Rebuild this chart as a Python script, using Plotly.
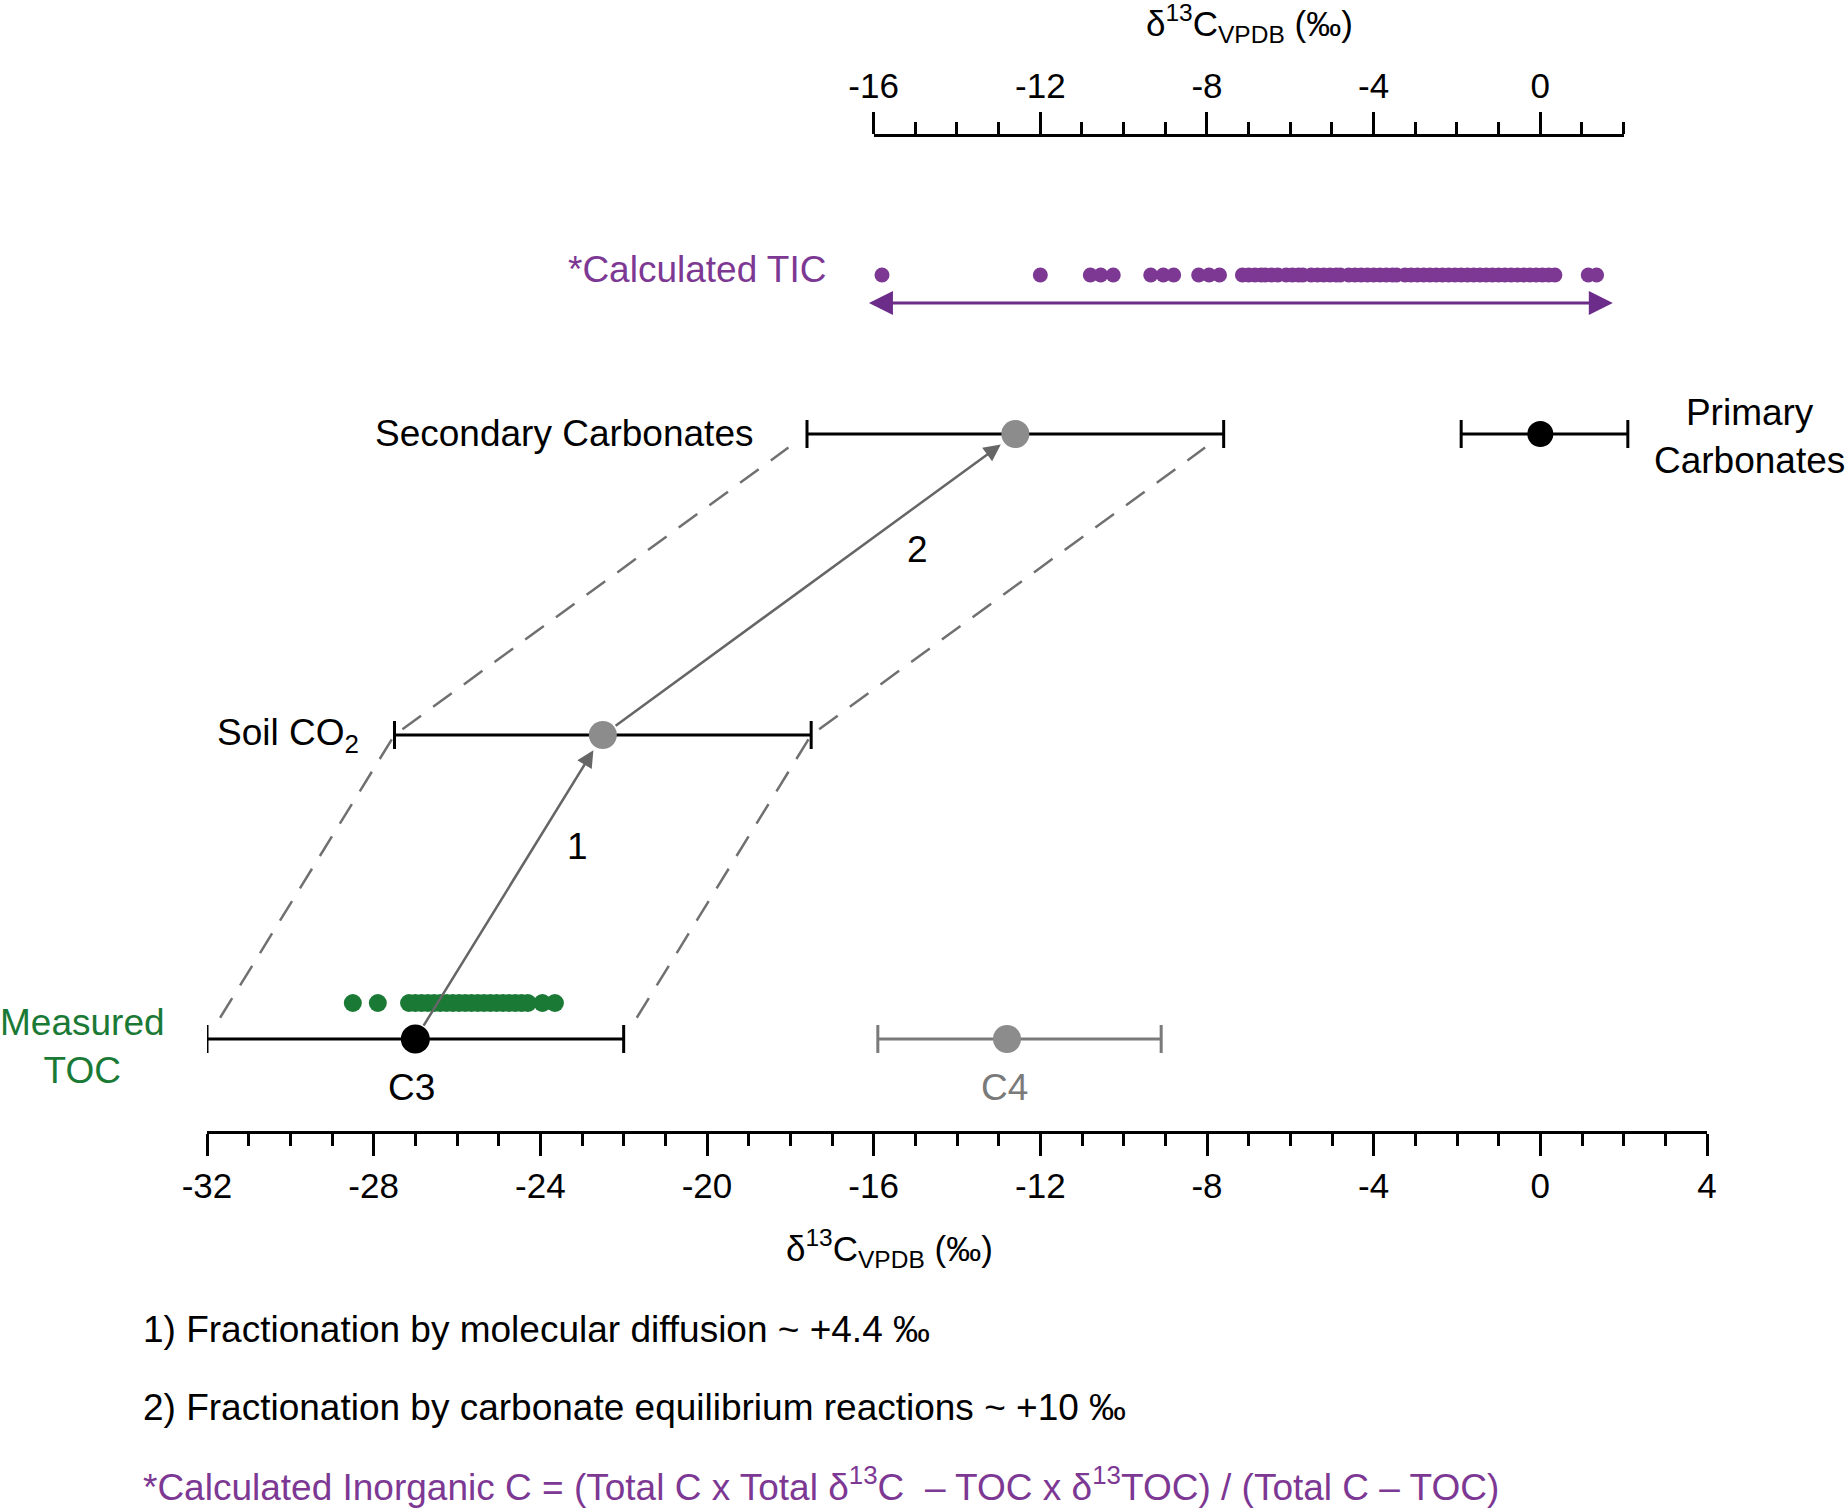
import plotly.graph_objects as go

# ---------------- data ----------------
tic_values = [-15.8, -12.0, -10.8, -10.55, -10.25, -9.35, -9.05, -8.8, -8.2, -7.95, -7.7,
              -7.15, -7.0, -6.85, -6.7, -6.6, -6.45, -6.3, -6.1, -5.95, -5.8, -5.7, -5.5,
              -5.35, -5.2, -5.05, -4.9, -4.8, -4.6, -4.45, -4.3, -4.15, -4.0, -3.85, -3.7,
              -3.55, -3.45, -3.25, -3.1, -2.95, -2.8, -2.65, -2.5, -2.35, -2.2, -2.05, -1.9,
              -1.75, -1.6, -1.45, -1.3, -1.15, -1.0, -0.85, -0.7, -0.55, -0.4, -0.25, -0.1,
              0.05, 0.2, 0.35, 1.15, 1.35]
toc_values = [-28.5, -27.9, -27.15, -27.0, -26.85, -26.7, -26.55, -26.4, -26.25, -26.1,
              -25.95, -25.8, -25.65, -25.5, -25.35, -25.2, -25.05, -24.9, -24.75, -24.6,
              -24.45, -24.3, -23.95, -23.65]

groups = ["C3", "C4", "Soil CO2", "Secondary Carbonates", "Primary Carbonates"]
centers = [-27.0, -12.8, -22.5, -12.6, 0.0]
lows = [-32.0, -15.9, -27.5, -17.6, -1.9]
highs = [-22.0, -9.1, -17.5, -7.6, 2.1]

tic_arrow_range = [-16.15, 1.74]
bottom_ticks = [-32, -28, -24, -20, -16, -12, -8, -4, 0, 4]
top_ticks = [-16, -12, -8, -4, 0]

# ---------------- layout helpers (row levels in plot units) ----------------
ROW = {"TIC": 856, "TICARROW": 828, "C3": 92, "C4": 92, "Soil CO2": 396,
       "Secondary Carbonates": 697, "Primary Carbonates": 697, "TOC": 128}

FONT = "Liberation Sans, Arial, sans-serif"
PURPLE = "#7D3894"
PURPLE_ARROW = "#6B2C8A"
GREEN = "#1A7A35"
GRAYDOT = "#8C8C8C"
C4GRAY = "#7A7A7A"
DASH = "#707070"
ARROW = "#666666"

idx = {g: i for i, g in enumerate(groups)}

fig = go.Figure()

# dashed envelope lines (C3 -> Soil -> Secondary ends)
for ends in (lows, highs):
    xs = [ends[idx["C3"]], ends[idx["Soil CO2"]], ends[idx["Secondary Carbonates"]]]
    ys = [ROW["C3"], ROW["Soil CO2"], ROW["Secondary Carbonates"]]
    f0, f1 = 0.07, 0.045
    xs2 = [xs[0] + f0 * (xs[1] - xs[0]), xs[1], xs[2] - f1 * (xs[2] - xs[1])]
    ys2 = [ys[0] + f0 * (ys[1] - ys[0]), ys[1], ys[2] - f1 * (ys[2] - ys[1])]
    fig.add_trace(go.Scatter(x=xs2, y=ys2, mode="lines",
                             line=dict(color=DASH, width=2.5, dash="23px,15px"),
                             hoverinfo="skip", showlegend=False, cliponaxis=False))

# error bars + points
styles = {
    "C3": ("black", "black", 29),
    "C4": (C4GRAY, GRAYDOT, 28),
    "Soil CO2": ("black", GRAYDOT, 28),
    "Secondary Carbonates": ("black", GRAYDOT, 28),
    "Primary Carbonates": ("black", "black", 26),
}
for g in groups:
    i = idx[g]
    lc, mc, ms = styles[g]
    fig.add_trace(go.Scatter(
        x=[centers[i]], y=[ROW[g]], mode="markers", name=g,
        marker=dict(color=mc, size=ms, line=dict(width=0)),
        error_x=dict(type="data", symmetric=False,
                     array=[highs[i] - centers[i]], arrayminus=[centers[i] - lows[i]],
                     color=lc, thickness=3, width=14),
        showlegend=False, cliponaxis=False))

# measured TOC
fig.add_trace(go.Scatter(x=toc_values, y=[ROW["TOC"]] * len(toc_values), mode="markers",
                         marker=dict(color=GREEN, size=18, line=dict(width=0)),
                         showlegend=False, cliponaxis=False))
# calculated TIC (on top axis)
fig.add_trace(go.Scatter(x=tic_values, y=[ROW["TIC"]] * len(tic_values), mode="markers",
                         xaxis="x2", yaxis="y",
                         marker=dict(color=PURPLE, size=15, line=dict(width=0)),
                         showlegend=False, cliponaxis=False))

ann = []
# process arrows
for a, b in (("C3", "Soil CO2"), ("Soil CO2", "Secondary Carbonates")):
    ann.append(dict(x=centers[idx[b]], y=ROW[b], ax=centers[idx[a]], ay=ROW[a],
                    xref="x", yref="y", axref="x", ayref="y", text="", showarrow=True,
                    arrowhead=2, arrowsize=1.35, arrowwidth=2.5, arrowcolor=ARROW,
                    standoff=18, startstandoff=14))
# TIC double arrow
ann.append(dict(x=tic_arrow_range[1], y=ROW["TICARROW"], ax=tic_arrow_range[0], ay=ROW["TICARROW"],
                xref="x", yref="y", axref="x", ayref="y", text="", showarrow=True,
                arrowhead=2, arrowsize=1.6, arrowwidth=3, arrowcolor=PURPLE_ARROW,
                arrowside="end+start"))

def txt(text, x, y, xref="x", yref="y", xanchor="center", color="black", size=37, align="center"):
    ann.append(dict(text=text, x=x, y=y, xref=xref, yref=yref, xanchor=xanchor,
                    yanchor="middle", showarrow=False, align=align,
                    font=dict(family=FONT, size=size, color=color)))

txt("*Calculated TIC", -17.1, 862, xanchor="right", color=PURPLE)
txt("Secondary Carbonates", -18.85, 698, xanchor="right")
txt("Primary<br>Carbonates", 1.028, (1131 - 436.5) / 994, xref="paper", yref="paper")
txt("Soil CO<sub>2</sub>", -28.3, 396, xanchor="right")
txt("Measured<br>TOC", -0.083, 84.5 / 994, xref="paper", yref="paper", color=GREEN)
txt("C3", -27.1, 44)
txt("C4", -12.85, 44, color=C4GRAY)
txt("1", -23.12, 285)
txt("2", -14.94, 582)

title = "δ<sup>13</sup>C<sub>VPDB</sub> (‰)"
txt(title, 0.455, -0.1187, xref="paper", yref="paper", size=35)
txt(title, 0.695, 1.1137, xref="paper", yref="paper", size=35)

txt("1) Fractionation by molecular diffusion ~ +4.4 ‰", -0.044, -0.1992,
    xref="paper", yref="paper", xanchor="left", align="left")
txt("2) Fractionation by carbonate equilibrium reactions ~ +10 ‰", -0.044, -0.2777,
    xref="paper", yref="paper", xanchor="left", align="left")
txt("*Calculated Inorganic C = (Total C x Total δ<sup>13</sup>C  – TOC x δ<sup>13</sup>TOC) / (Total C – TOC)",
    -0.044, -0.3561, xref="paper", yref="paper", xanchor="left", align="left", color=PURPLE)

axis_common = dict(showline=True, linecolor="black", linewidth=3, ticks="outside",
                   ticklen=22, tickwidth=3, tickcolor="black", showgrid=False,
                   zeroline=False, tickfont=dict(family=FONT, size=35, color="black"),
                   minor=dict(dtick=1, ticks="outside", ticklen=12, tickwidth=3,
                              tickcolor="black", showgrid=False),
                   fixedrange=True)

fig.update_layout(
    width=1848, height=1512,
    margin=dict(l=207, r=141, t=137, b=381, pad=0),
    paper_bgcolor="white", plot_bgcolor="rgba(0,0,0,0)",
    showlegend=False,
    font=dict(family=FONT, size=37, color="black"),
    xaxis=dict(range=[-32, 4], tickvals=bottom_ticks, ticktext=[str(v) for v in bottom_ticks],
               anchor="y", side="bottom", domain=[0, 1], **axis_common),
    xaxis2=dict(range=[-16, 2], tickvals=top_ticks, ticktext=[str(v) for v in top_ticks],
                anchor="y", side="top", domain=[16 / 36, 34 / 36], **axis_common),
    yaxis=dict(range=[0, 994], visible=False, fixedrange=True, domain=[0, 1]),
    annotations=ann,
)

fig.write_html("out.html", post_script="document.body.style.margin='0';",
               config={"displayModeBar": False, "staticPlot": True})
